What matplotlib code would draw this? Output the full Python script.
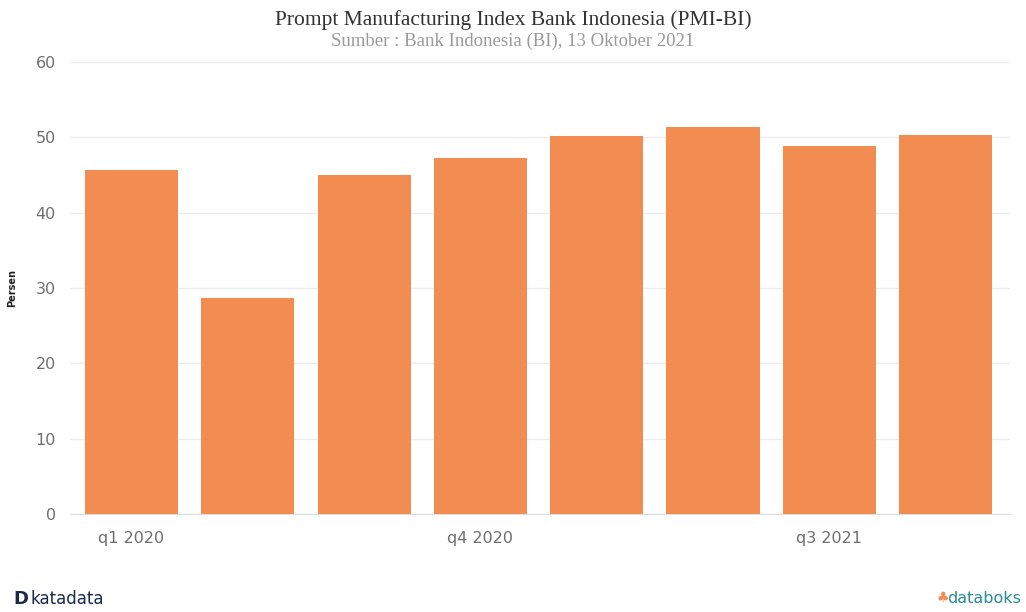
import matplotlib
matplotlib.use("Agg")
import matplotlib.pyplot as plt
import numpy as np

# data
quarters = ["q1 2020", "q2 2020", "q3 2020", "q4 2020", "q1 2021", "q2 2021", "q3 2021", "q4 2021"]
pmi_values = [45.7, 28.7, 45.0, 47.2, 50.1, 51.4, 48.8, 50.3]
shown_ticks = ["q1 2020", "q4 2020", "q3 2021"]
y_ticks = [0, 10, 20, 30, 40, 50, 60]

BAR_COLOR = "#f28c50"
GRID_COLOR = "#ececec"
TICK_COLOR = "#6e6e6e"

fig = plt.figure(figsize=(10.26, 6.12), dpi=100)
ax = fig.add_axes([0.068, 0.160, 0.916, 0.739])

x = np.arange(len(quarters))
ax.bar(x, pmi_values, width=0.8, color=BAR_COLOR, zorder=2)

ax.set_ylim(0, 60)
ax.set_xlim(-0.53, len(quarters) - 0.45)
ax.set_yticks(y_ticks)
ax.set_yticklabels([str(v) for v in y_ticks], fontsize=11.5, color=TICK_COLOR, family="DejaVu Sans")
ax.yaxis.grid(True, color=GRID_COLOR, linewidth=1, zorder=0)

tick_pos = [quarters.index(q) for q in shown_ticks]
ax.set_xticks(tick_pos)
ax.set_xticklabels(shown_ticks, fontsize=11.5, color=TICK_COLOR, family="DejaVu Sans")
ax.tick_params(axis="both", length=0)
ax.tick_params(axis="x", pad=12)
ax.tick_params(axis="y", pad=10)

for side in ["top", "right", "left"]:
    ax.spines[side].set_visible(False)
ax.spines["bottom"].set_color("#dddddd")

ax.set_ylabel("Persen", fontsize=7, fontweight="bold", color="#222222")
ax.yaxis.set_label_coords(-0.056, 0.5)

fig.text(0.5, 0.968, "Prompt Manufacturing Index Bank Indonesia (PMI-BI)",
         ha="center", va="center", fontsize=15.5, family="Liberation Serif", color="#333333")
fig.text(0.5, 0.932, "Sumber : Bank Indonesia (BI), 13 Oktober 2021",
         ha="center", va="center", fontsize=13.5, family="Liberation Serif", color="#9a9a9a")

# footer logos as text
fig.text(0.013, 0.022, "D", ha="left", va="center", fontsize=13, fontweight="bold", color="#1b2a4a")
fig.text(0.030, 0.022, "katadata", ha="left", va="center", fontsize=12, color="#1b2a4a")
fig.text(0.925, 0.022, "\u2663", ha="right", va="center", fontsize=10, color="#f28c50")
fig.text(0.995, 0.022, "databoks", ha="right", va="center", fontsize=11.5, color="#2a8c9a")

fig.savefig("out.png", dpi=100, facecolor="white")
